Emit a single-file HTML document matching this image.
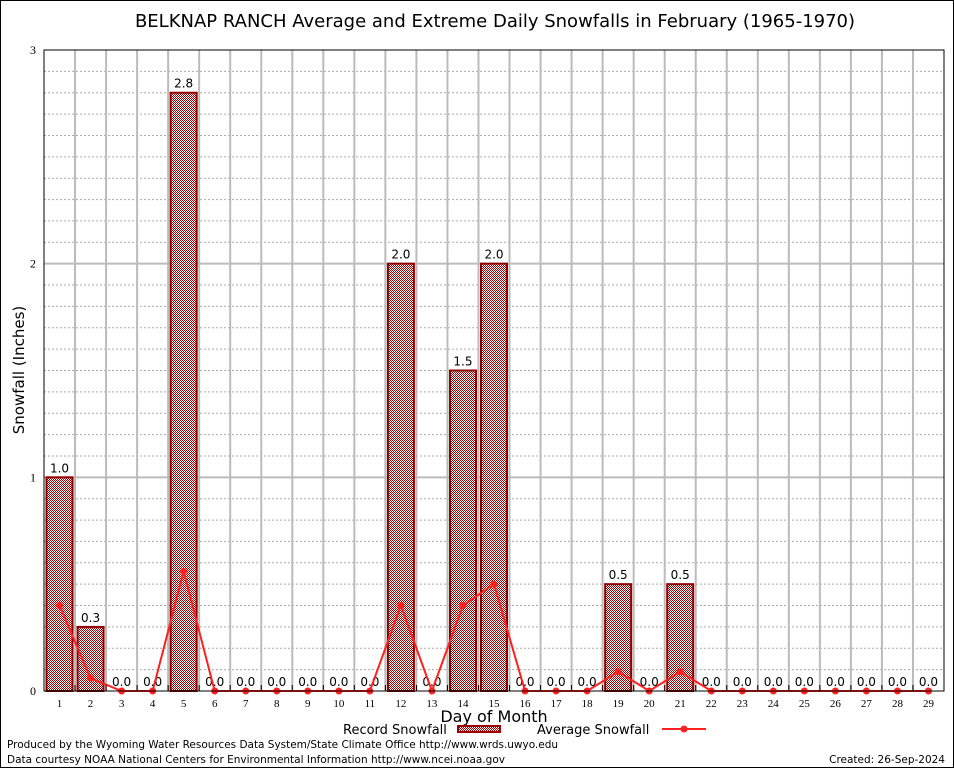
<!DOCTYPE html>
<html><head><meta charset="utf-8"><style>
body{margin:0;background:#fff;}
svg{display:block;font-family:"DejaVu Sans","Liberation Sans",sans-serif;}
</style></head><body>
<svg id="c" width="954" height="768" viewBox="0 0 954 768">
<defs>
<pattern id="hatch" x="0" y="0" width="2" height="2" patternUnits="userSpaceOnUse">
<rect width="2" height="2" fill="#fff"/>
<rect width="1" height="1" fill="#a00000"/><rect x="1" y="1" width="1" height="1" fill="#a00000"/>
</pattern>
</defs>
<rect x="0.5" y="0.5" width="953" height="767" fill="#fff" stroke="#000"/>
<text x="495" y="27" font-size="18" text-anchor="middle">BELKNAP RANCH Average and Extreme Daily Snowfalls in February (1965-1970)</text>
<g id="grid"></g>
<g id="bars"></g>
<g id="line"></g>
<rect x="44" y="50" width="900" height="641" fill="none" stroke="#000"/>
<g id="axes"></g>
<text x="24" y="370" font-size="15" text-anchor="middle" transform="rotate(-90 24 370)">Snowfall (Inches)</text>
<text x="494" y="722" font-size="16" text-anchor="middle">Day of Month</text>
<g>
<text x="343" y="734" font-size="13">Record Snowfall</text>
<rect x="458" y="726" width="42" height="6" fill="url(#hatch)" stroke="#a00000" stroke-width="2"/>
<text x="537" y="734" font-size="13">Average Snowfall</text>
<line x1="662" y1="729" x2="706" y2="729" stroke="#ff2020" stroke-width="2"/>
<circle cx="684" cy="729" r="3.5" fill="#ff2020"/>
</g>
<text x="7" y="748" font-size="10.5" textLength="551">Produced by the Wyoming Water Resources Data System/State Climate Office http://www.wrds.uwyo.edu</text>
<text x="7" y="763" font-size="10.5" textLength="498">Data courtesy NOAA National Centers for Environmental Information http://www.ncei.noaa.gov</text>
<text x="945" y="763" font-size="10.5" text-anchor="end">Created:  26-Sep-2024</text>
</svg>
<script>
const days=[1,2,3,4,5,6,7,8,9,10,11,12,13,14,15,16,17,18,19,20,21,22,23,24,25,26,27,28,29];
const recordSnow=[1.0,0.3,0,0,2.8,0,0,0,0,0,0,2.0,0,1.5,2.0,0,0,0,0.5,0,0.5,0,0,0,0,0,0,0,0];
const avgSnow=[0.4,0.06,0,0,0.56,0,0,0,0,0,0,0.4,0,0.4,0.5,0,0,0,0.09,0,0.09,0,0,0,0,0,0,0,0];
const yTicks=[0,1,2,3];
const NS="http://www.w3.org/2000/svg";
const L=44,R=944,T=50,B=691,yMax=3;
const slot=(R-L)/days.length;
const xC=d=>L+(d-0.5)*slot;
const yS=v=>B-(v/yMax)*(B-T);
function mk(tag,attrs,parent){const e=document.createElementNS(NS,tag);for(const k in attrs)e.setAttribute(k,attrs[k]);parent.appendChild(e);return e;}
const grid=document.getElementById('grid'),bars=document.getElementById('bars'),line=document.getElementById('line'),axes=document.getElementById('axes');
for(let i=1;i<yMax*10;i++){if(i%10===0)continue;const y=yS(i/10);
const g=mk('line',{x1:L,x2:R,y1:y,y2:y,stroke:'#aaa','stroke-dasharray':'2,2','stroke-width':1},grid);

}
for(let i=1;i<days.length;i++){const x=L+i*slot;
const g=mk('line',{x1:x,x2:x,y1:T,y2:B,stroke:'#bbb','stroke-width':2},grid);


const t=mk('line',{x1:x,x2:x,y1:B,y2:B-6,stroke:'#000'},axes);

}
yTicks.forEach(v=>{const y=yS(v);
if(v>0&&v<yMax){const g=mk('line',{x1:L,x2:R,y1:y,y2:y,stroke:'#bbb','stroke-width':2},grid);

}
const t=mk('text',{x:L-8,y:y+4,'font-size':12,'text-anchor':'end','font-family':'Liberation Serif, serif'},axes);t.textContent=v;

});
days.forEach((d,i)=>{const x=xC(d);const v=recordSnow[i];
if(v>0){const b=mk('rect',{x:x-13,y:yS(v),width:26,height:B-yS(v),fill:'url(#hatch)',stroke:'#900000','stroke-width':2},bars);

}
const lb=mk('text',{x:x,y:yS(v)-5,'font-size':12,'text-anchor':'middle'},bars);lb.textContent=v.toFixed(1);


const t=mk('text',{x:x,y:B+16,'font-size':11,'text-anchor':'middle','font-family':'Liberation Serif, serif'},axes);t.textContent=d;

});
const pts=days.map((d,i)=>xC(d)+','+yS(avgSnow[i])).join(' ');
const pl=mk('polyline',{points:pts,fill:'none',stroke:'#ff2020','stroke-width':2},line);


days.forEach((d,i)=>{const c=mk('circle',{cx:xC(d),cy:yS(avgSnow[i]),r:3.5,fill:'#ff2020'},line);

});
</script>
</body></html>
